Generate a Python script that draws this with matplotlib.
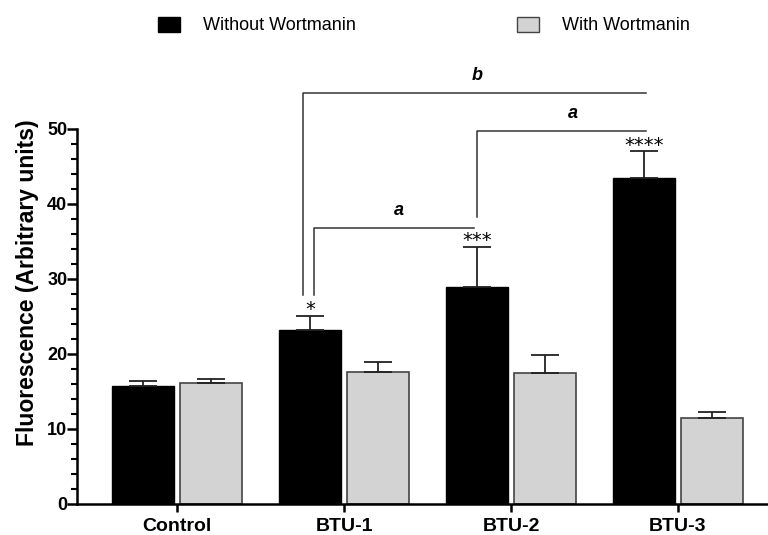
import matplotlib.pyplot as plt
from matplotlib.patches import Rectangle
from matplotlib.ticker import MultipleLocator
import numpy as np

plt.rcParams['font.family'] = ['Liberation Sans', 'DejaVu Sans']

groups = ["Control", "BTU-1", "BTU-2", "BTU-3"]
without_wort = [15.7, 23.2, 28.9, 43.5]
without_err = [0.7, 1.9, 5.4, 3.5]
with_wort = [16.1, 17.6, 17.4, 11.5]
with_err = [0.6, 1.3, 2.4, 0.8]
stars = ["", "*", "***", "****"]

x = np.arange(len(groups))
w = 0.37
off = 0.204

fig = plt.figure(figsize=(7.68, 5.35), dpi=100)
ax = fig.add_axes([0.1003, 0.058, 0.8997, 0.701])

ax.bar(x - off, without_wort, w, color="black", edgecolor="black", lw=1,
       yerr=[np.zeros(4), without_err], capsize=10,
       error_kw=dict(ecolor="#222222", elinewidth=1.3, capthick=1.3))
ax.bar(x + off, with_wort, w, color="#d3d3d3", edgecolor="#444444", lw=1.2,
       yerr=[np.zeros(4), with_err], capsize=10,
       error_kw=dict(ecolor="#222222", elinewidth=1.3, capthick=1.3))

for i, s in enumerate(stars):
    if s:
        ax.text(x[i] - off, without_wort[i] + without_err[i] - 0.5, s,
                ha="center", va="bottom", fontsize=14, family="DejaVu Sans")

# significance brackets
lc = "#333333"
kw = dict(color=lc, lw=1.1, clip_on=False)
ax.plot([0.754, 0.754, 2.808], [27.9, 54.8, 54.8], **kw)
ax.text(1.80, 56.0, "b", ha="center", va="bottom", fontsize=13,
        fontweight="bold", style="italic")
ax.plot([0.820, 0.820, 1.778], [27.9, 36.8, 36.8], **kw)
ax.text(1.33, 38.0, "a", ha="center", va="bottom", fontsize=13,
        fontweight="bold", style="italic")
ax.plot([1.796, 1.796, 2.808], [38.2, 49.7, 49.7], **kw)
ax.text(2.37, 50.9, "a", ha="center", va="bottom", fontsize=13,
        fontweight="bold", style="italic")

ax.set_xlim(-0.599, 3.539)
ax.set_ylim(0, 50)
ax.set_xticks(x)
ax.set_xticklabels(groups, fontsize=14, fontweight="bold")
ax.yaxis.set_major_locator(MultipleLocator(10))
ax.yaxis.set_minor_locator(MultipleLocator(2))
for lab in ax.get_yticklabels():
    lab.set_fontweight("bold")
    lab.set_fontsize(13)
ax.tick_params(axis="y", which="major", length=7, width=1.8, pad=0)
ax.tick_params(axis="y", which="minor", length=4, width=1.5)
ax.tick_params(axis="x", length=6, width=1.8, pad=4)
ax.spines["top"].set_visible(False)
ax.spines["right"].set_visible(False)
ax.spines["left"].set_linewidth(1.8)
ax.spines["bottom"].set_linewidth(1.8)
ax.set_ylabel("Fluorescence (Arbitrary units)", fontsize=16.5, fontweight="bold",
              labelpad=6, y=0.59)

# legend
fig.patches.append(Rectangle((158 / 768, 1 - 32 / 535), 22 / 768, 15 / 535,
                             transform=fig.transFigure, facecolor="black",
                             edgecolor="black", lw=1))
fig.text(203 / 768, 1 - 25 / 535, "Without Wortmanin", fontsize=13, va="center")
fig.patches.append(Rectangle((517 / 768, 1 - 32 / 535), 22 / 768, 15 / 535,
                             transform=fig.transFigure, facecolor="#d3d3d3",
                             edgecolor="#444444", lw=1))
fig.text(562 / 768, 1 - 25 / 535, "With Wortmanin", fontsize=13, va="center")

fig.savefig("out.png", dpi=100)
